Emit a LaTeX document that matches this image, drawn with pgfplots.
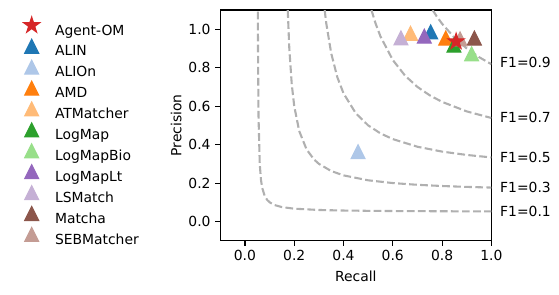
\documentclass[border=0pt]{standalone}
\usepackage{fontspec}
\setmainfont{DejaVu Sans}
\usepackage{pgfplots}
\pgfplotsset{compat=1.18}
\definecolor{cALIN}{HTML}{1F77B4}
\definecolor{cALIOn}{HTML}{AEC7E8}
\definecolor{cAMD}{HTML}{FF7F0E}
\definecolor{cATM}{HTML}{FFBB78}
\definecolor{cLogMap}{HTML}{2CA02C}
\definecolor{cLogMapBio}{HTML}{98DF8A}
\definecolor{cLogMapLt}{HTML}{9467BD}
\definecolor{cLSMatch}{HTML}{C5B0D5}
\definecolor{cMatcha}{HTML}{8C564B}
\definecolor{cSEB}{HTML}{C49C94}
\definecolor{cAgent}{HTML}{D62728}
\definecolor{isogray}{RGB}{176,176,176}
\pgfdeclareplotmark{mtri}{%
 \pgfpathmoveto{\pgfqpoint{0pt}{\pgfplotmarksize}}%
 \pgfpathlineto{\pgfqpoint{-\pgfplotmarksize}{-\pgfplotmarksize}}%
 \pgfpathlineto{\pgfqpoint{\pgfplotmarksize}{-\pgfplotmarksize}}%
 \pgfpathclose\pgfusepathqfillstroke}
\pgfdeclareplotmark{mstar}{%
 \pgfpathmoveto{\pgfpointpolar{90}{\pgfplotmarksize}}%
 \pgfpathlineto{\pgfpointpolar{126}{0.382\pgfplotmarksize}}%
 \pgfpathlineto{\pgfpointpolar{162}{\pgfplotmarksize}}%
 \pgfpathlineto{\pgfpointpolar{198}{0.382\pgfplotmarksize}}%
 \pgfpathlineto{\pgfpointpolar{234}{\pgfplotmarksize}}%
 \pgfpathlineto{\pgfpointpolar{270}{0.382\pgfplotmarksize}}%
 \pgfpathlineto{\pgfpointpolar{306}{\pgfplotmarksize}}%
 \pgfpathlineto{\pgfpointpolar{342}{0.382\pgfplotmarksize}}%
 \pgfpathlineto{\pgfpointpolar{18}{\pgfplotmarksize}}%
 \pgfpathlineto{\pgfpointpolar{54}{0.382\pgfplotmarksize}}%
 \pgfpathclose\pgfusepathqfillstroke}
\pgfplotsset{
 tri/.style={only marks, mark=mtri, mark size=5pt, color=#1, mark options={line width=0.8pt},
   legend image code/.code={\path (0pt,-3pt) (17pt,10pt); \draw[##1] plot coordinates {(8.5pt,3.5pt)};}},
 stars/.style={only marks, mark=mstar, mark size=6pt, color=#1, mark options={line width=0.8pt},
   legend image code/.code={\path (0pt,-3pt) (17pt,10pt); \draw[##1] plot coordinates {(8.5pt,3.5pt)};}},
 iso/.style={color=isogray, line width=1.5pt, dash pattern=on 5.55pt off 2.4pt, no marks},
}
\begin{document}
\begin{tikzpicture}
\begin{axis}[
 scale only axis, width=195.1pt, height=166.1pt,
 xmin=-0.1, xmax=1.0, ymin=-0.1, ymax=1.1,
 xtick={0,0.2,0.4,0.6,0.8,1.0}, ytick={0,0.2,0.4,0.6,0.8,1.0},
 tick align=outside, tick pos=left, major tick length=3.5pt,
 every tick/.style={black, line width=0.8pt},
 axis line style={line width=0.8pt},
 /pgf/number format/fixed, /pgf/number format/fixed zerofill,
 /pgf/number format/precision=1, /pgf/number format/assume math mode=true,
 tick label style={font=\fontsize{10}{12}\selectfont},
 label style={font=\fontsize{10}{12}\selectfont},
 xlabel=Recall, ylabel=Precision,
 xlabel style={at={(axis description cs:0.5,-0.153)}, anchor=center},
 ylabel style={at={(axis description cs:-0.163,0.5)}, anchor=center},
 clip mode=individual,
 legend cell align=left,
 legend style={draw=none, fill=none, at={(axis description cs:-0.757,0.987)}, anchor=north west,
   font=\fontsize{10}{12}\selectfont, row sep=-1.65pt,
   nodes={inner sep=0pt, text height=10pt, text depth=3pt},
   /tikz/every odd column/.append style={column sep=8.1pt}},
]
% iso-F1 curves
\addplot[iso, forget plot] coordinates {(0.0524,1.0917)(0.053,0.883)(0.055,0.55)(0.06,0.3)(0.065,0.2167)(0.07,0.175)(0.08,0.1333)(0.09,0.1125)(0.1,0.1)(0.12,0.0857)(0.15,0.075)(0.2,0.0667)(0.3,0.06)(0.4,0.0571)(0.5,0.0556)(0.6,0.0545)(0.8,0.0533)(1.0,0.0526)};
\addplot[iso, forget plot] coordinates {(0.1737,1.099)(0.18,0.9)(0.19,0.7125)(0.2,0.6)(0.22,0.4714)(0.25,0.375)(0.28,0.3231)(0.3,0.3)(0.35,0.2625)(0.4,0.24)(0.5,0.2143)(0.6,0.2)(0.7,0.1909)(0.8,0.1846)(0.9,0.18)(1.0,0.1765)};
\addplot[iso, forget plot] coordinates {(0.3236,1.099)(0.33,1.031)(0.35,0.875)(0.375,0.75)(0.4,0.6667)(0.45,0.5625)(0.5,0.5)(0.55,0.4583)(0.6,0.4286)(0.7,0.3889)(0.8,0.3636)(0.9,0.3462)(1.0,0.3333)};
\addplot[iso, forget plot] coordinates {(0.5134,1.0997)(0.53,1.0306)(0.55,0.9625)(0.6,0.84)(0.65,0.7583)(0.7,0.7)(0.75,0.65625)(0.8,0.6222)(0.9,0.5727)(1.0,0.5385)};
\addplot[iso, forget plot] coordinates {(0.7616,1.0999)(0.78,1.0636)(0.8,1.0286)(0.85,0.95625)(0.9,0.9)(0.95,0.855)(1.0,0.8182)};
\addlegendimage{stars=cAgent}
\addlegendentry{Agent-OM}
\addplot[tri=cALIN] coordinates {(0.754,0.986)}; \addlegendentry{ALIN}
\addplot[tri=cALIOn] coordinates {(0.459,0.363)}; \addlegendentry{ALIOn}
\addplot[tri=cAMD] coordinates {(0.815,0.954)}; \addlegendentry{AMD}
\addplot[tri=cATM] coordinates {(0.672,0.979)}; \addlegendentry{ATMatcher}
\addplot[tri=cLogMap] coordinates {(0.848,0.917)}; \addlegendentry{LogMap}
\addplot[tri=cLogMapBio] coordinates {(0.920,0.872)}; \addlegendentry{LogMapBio}
\addplot[tri=cLogMapLt] coordinates {(0.728,0.964)}; \addlegendentry{LogMapLt}
\addplot[tri=cLSMatch] coordinates {(0.633,0.955)}; \addlegendentry{LSMatch}
\addplot[tri=cMatcha] coordinates {(0.931,0.954)}; \addlegendentry{Matcha}
\addplot[tri=cSEB] coordinates {(0.873,0.950)}; \addlegendentry{SEBMatcher}
\addplot[stars=cAgent, forget plot] coordinates {(0.857,0.936)};
\node[anchor=west, inner sep=0pt, font=\fontsize{10}{12}\selectfont] at (axis cs:1.035,0.825) {F1=0.9};
\node[anchor=west, inner sep=0pt, font=\fontsize{10}{12}\selectfont] at (axis cs:1.035,0.541) {F1=0.7};
\node[anchor=west, inner sep=0pt, font=\fontsize{10}{12}\selectfont] at (axis cs:1.035,0.335) {F1=0.5};
\node[anchor=west, inner sep=0pt, font=\fontsize{10}{12}\selectfont] at (axis cs:1.035,0.178) {F1=0.3};
\node[anchor=west, inner sep=0pt, font=\fontsize{10}{12}\selectfont] at (axis cs:1.035,0.054) {F1=0.1};
\end{axis}
\pgfresetboundingbox
\path[use as bounding box] ([xshift=-158.6pt,yshift=-38.4pt]current axis.south west) rectangle ([xshift=48.7pt,yshift=7.2pt]current axis.north east);
\end{tikzpicture}
\end{document}
